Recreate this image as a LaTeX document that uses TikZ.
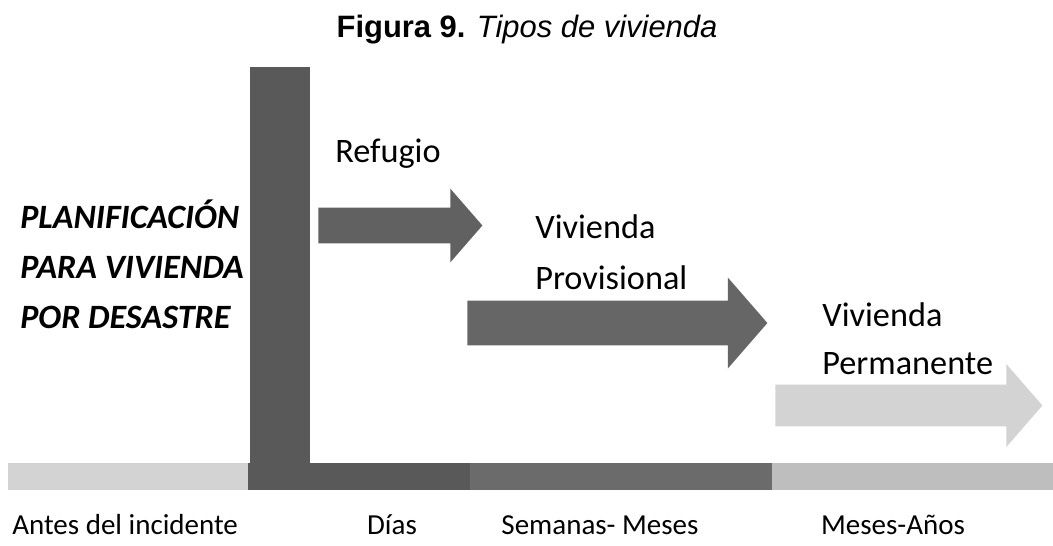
\documentclass[tikz,border=0pt]{standalone}
\usepackage{fontspec}
\setmainfont{Carlito}
\newfontfamily\titlefont{Liberation Sans}
\usepackage{tikz}
\usetikzlibrary{arrows, shapes, shapes.arrows, positioning}

\definecolor{barDark}{HTML}{595959}
\definecolor{barMid}{HTML}{6B6B6B}
\definecolor{barLight}{HTML}{D3D3D3}
\definecolor{barPale}{HTML}{BEBEBE}

\begin{document}
\begin{tikzpicture}[x=0.2mm, y=-0.2mm,
    phase/.style={single arrow, draw=none, inner xsep=0pt, single arrow tip angle=98, anchor=west},
    lbl/.style={inner sep=0pt, anchor=base west, font=\fontsize{19.5}{23}\selectfont},
    axis/.style={inner sep=0pt, anchor=base, font=\fontsize{16.5}{20}\selectfont}]
            \useasboundingbox (0,0) rectangle (1053,546);
            % title
            \node[inner sep=0pt] (T) at (527,30) {\titlefont\fontsize{17.6}{20}\selectfont\textbf{Figura 9.} \textit{Tipos de vivienda}};

            % time line
            \fill[barLight] (8,463) rectangle (248,490);
            \fill[barDark] (248,463) rectangle (470,490);
            \fill[barMid] (470,463) rectangle (772,490);
            \fill[barPale] (772,463) rectangle (1053,490);
            \fill[barDark] (250,67) rectangle (310,463);

            % left title
            \node[inner sep=0pt, anchor=base west, align=left, font=\fontsize{19.4}{28.4}\selectfont\bfseries\itshape] (P) at (20,328)
                {PLANIFICACIÓN\\PARA VIVIENDA\\POR DESASTRE};

            % arrows
            \node[phase, fill=barDark!95!white, minimum height=32.8mm, inner ysep=3.5mm, single arrow head extend=3.8mm] (R) at (318,225.5) {};
            \node[phase, fill=barMid!95!black, minimum height=60mm, inner ysep=4.4mm, single arrow head extend=4.6mm] (V) at (467,323) {};
            \node[phase, fill=barLight, minimum height=53.4mm, inner ysep=4.1mm, single arrow head extend=4.1mm] (W) at (775,405.5) {};

            \node[lbl] (r) at (335,162) {Refugio};
            \node[lbl] (v1) at (535,238) {Vivienda};
            \node[lbl] (v2) at (535,289) {Provisional};
            \node[lbl] (w1) at (822,326) {Vivienda};
            \node[lbl] (w2) at (822,374) {Permanente};

            % labels under the time line
            \node[axis, anchor=base west] (a) at (12,534) {Antes del incidente};
            \node[axis] (d) at (392,534) {Días};
            \node[axis] (s) at (600,534) {Semanas- Meses};
            \node[axis] (m) at (893,534) {Meses-Años};
        \end{tikzpicture}
\end{document}
